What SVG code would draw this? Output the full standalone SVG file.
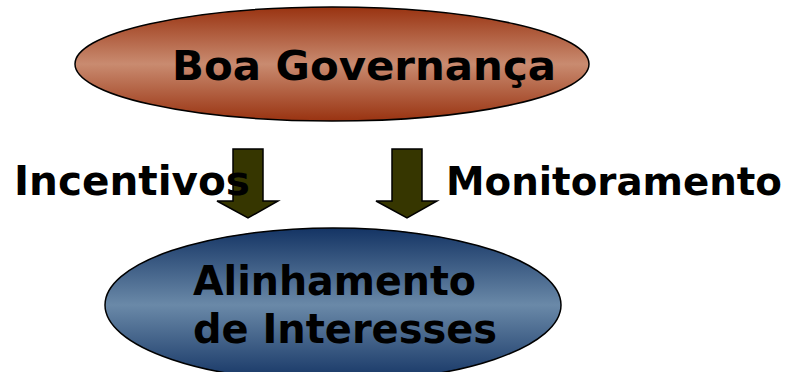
<svg xmlns="http://www.w3.org/2000/svg" width="788" height="372" viewBox="0 0 788 372">
  <defs>
    <linearGradient id="gTop" x1="0" y1="0" x2="0" y2="1">
      <stop offset="0" stop-color="#993311"/>
      <stop offset="0.5" stop-color="#c98b70"/>
      <stop offset="1" stop-color="#993311"/>
    </linearGradient>
    <linearGradient id="gBot" x1="0" y1="0" x2="0" y2="1">
      <stop offset="0" stop-color="#143464"/>
      <stop offset="0.5" stop-color="#6a89a8"/>
      <stop offset="1" stop-color="#143464"/>
    </linearGradient>
    <style>
      .lbl { font-family: "DejaVu Sans", Verdana, sans-serif; font-weight: bold; fill: #000; }
      .arrow { fill: #363600; stroke: #000; stroke-width: 1.5; stroke-linejoin: miter; }
      .node { stroke: #000; stroke-width: 1.5; }
    </style>
  </defs>
  <rect width="788" height="372" fill="#fff"/>
  <g id="boa-governanca">
    <ellipse class="node" cx="332" cy="64" rx="257" ry="57" fill="url(#gTop)"/>
    <text class="lbl" x="172" y="80" font-size="41" textLength="384" lengthAdjust="spacingAndGlyphs">Boa Governança</text>
  </g>
  <g id="alinhamento">
    <ellipse class="node" cx="333" cy="305" rx="228" ry="77" fill="url(#gBot)"/>
    <text class="lbl" x="193" y="295" font-size="40" textLength="283" lengthAdjust="spacingAndGlyphs">Alinhamento</text>
    <text class="lbl" x="193" y="343" font-size="40" textLength="304" lengthAdjust="spacingAndGlyphs">de Interesses</text>
  </g>
  <g id="connectors">
    <path class="arrow" d="M233,149 H263 V201 H278 L248,218 L217,201 H233 Z"/>
    <path class="arrow" d="M392,149 H422 V201 H437 L407,218 L376,201 H392 Z"/>
    <text class="lbl" x="14" y="195" font-size="40" textLength="236" lengthAdjust="spacingAndGlyphs">Incentivos</text>
    <text class="lbl" x="446" y="195" font-size="39" textLength="336" lengthAdjust="spacingAndGlyphs">Monitoramento</text>
  </g>
</svg>
